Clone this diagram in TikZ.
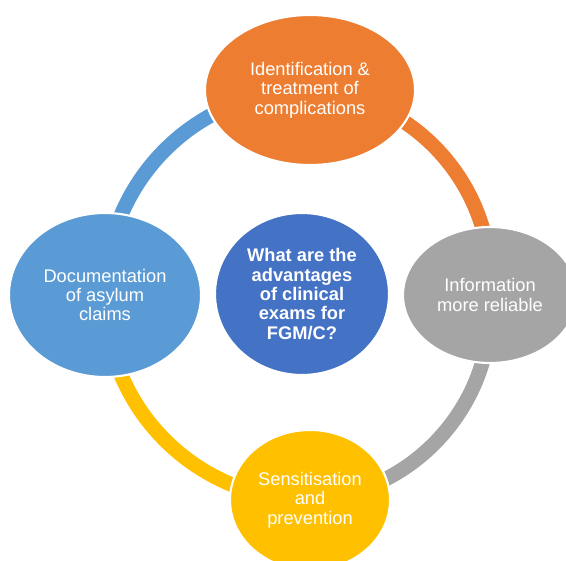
\documentclass[tikz,border=0pt]{standalone}
\usepackage{fontspec}
\setmainfont{Liberation Sans}
\usepackage{tikz}
\usetikzlibrary{shapes.geometric,backgrounds}
\usepackage{xcolor}
\definecolor{saorange}{RGB}{237,125,49}
\definecolor{sagray}{RGB}{165,165,165}
\definecolor{sayellow}{RGB}{255,192,0}
\definecolor{salightblue}{RGB}{91,155,213}
\definecolor{sablue}{RGB}{68,114,196}

\begin{document}
\begin{tikzpicture}[
    every node/.style={font=\fontsize{13}{13.8}\selectfont},
    blob/.style={ellipse, draw=white, line width=1.5pt, inner sep=0pt, text=white, align=center},
    ring/.style={line width=10.5pt}
]
\useasboundingbox (0,0) rectangle (14.15,14);
\clip (0,0) rectangle (14.15,14);

% Central question
\node[blob, fill=sablue, minimum width=4.35cm, minimum height=4.05cm, font=\fontsize{13}{13.8}\selectfont\bfseries] (question) at (7.55,6.65) {What are the\\advantages\\of clinical\\exams for\\FGM/C?};

% Advantages round the cycle
\node[blob, fill=saorange, minimum width=5.25cm, minimum height=3.75cm] (ident) at (7.75,11.75) {Identification \&\\treatment of\\complications};
\node[blob, fill=sagray, minimum width=4.35cm, minimum height=3.4cm] (info) at (12.25,6.625) {Information\\more reliable};
\node[blob, fill=sayellow, minimum width=4cm, minimum height=3.5cm] (sens) at (7.75,1.5) {Sensitisation\\and\\prevention};
\node[blob, fill=salightblue, minimum width=4.8cm, minimum height=4.1cm] (docu) at (2.625,6.625) {Documentation\\of asylum\\claims};

% Ring
\begin{pgfonlayer}{background}
\draw[ring, saorange] (ident.center) to[bend left=45] (info.center);
\draw[ring, sagray] (info.center) to[bend left=45] (sens.center);
\draw[ring, sayellow] (sens.center) to[bend left=45] (docu.center);
\draw[ring, salightblue] (docu.center) to[bend left=45] (ident.center);
\end{pgfonlayer}

\end{tikzpicture}
\end{document}
